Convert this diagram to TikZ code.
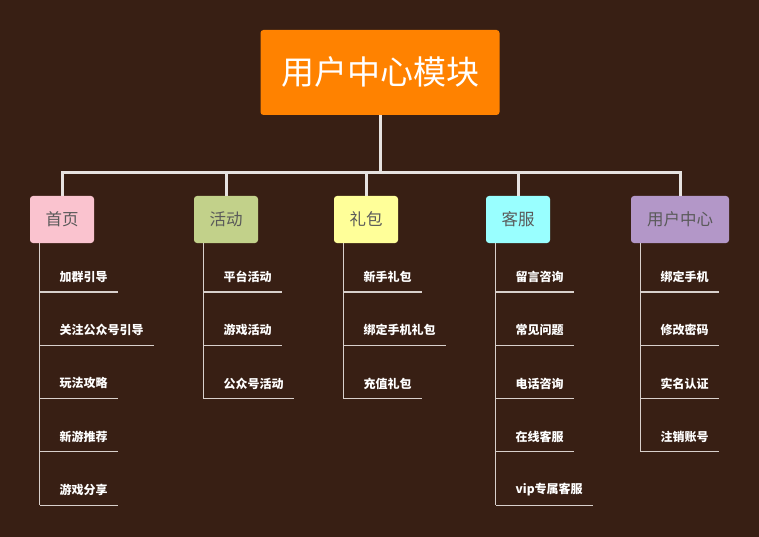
\documentclass[tikz,border=0pt]{standalone}
\usepackage{fontspec}
\setmainfont{Noto Sans CJK SC}
\newfontfamily\cjk{Noto Sans CJK SC}
\definecolor{bg}{HTML}{381F14}
\definecolor{rootc}{HTML}{FF8200}
\definecolor{linec}{HTML}{E6E2E0}
\definecolor{leafline}{HTML}{D8D0CC}
\definecolor{cattext}{HTML}{5A5A5A}
\definecolor{cpink}{HTML}{FAC3CF}
\definecolor{cgreen}{HTML}{C2D18A}
\definecolor{cyellow}{HTML}{FFFF99}
\definecolor{ccyan}{HTML}{99FFFF}
\definecolor{cpurple}{HTML}{B397C8}
\tikzset{
  rootbox/.style={fill=rootc, rounded corners=3pt, minimum width=239pt, minimum height=85pt, inner sep=0pt, text=white, font=\cjk\fontsize{33}{36}\selectfont},
  cattext/.style={text=cattext, font=\cjk\fontsize{16.5}{18}\selectfont},
  catbox/.style={rounded corners=3pt, minimum height=47pt, minimum width=64pt, inner sep=0pt, cattext},
  leaf/.style={anchor=south west, inner xsep=0pt, inner ysep=0pt, minimum height=30pt, text=white, font=\cjk\bfseries\fontsize{12}{14}\selectfont},
  trunk/.style={draw=linec, line width=3pt},
  twig/.style={draw=leafline, line width=1.1pt}
}
\begin{document}
\begin{tikzpicture}[x=1pt,y=-1pt]
\fill[bg] (0,0) rectangle (759,537);
\useasboundingbox (0,0) rectangle (759,537);
\node[rootbox] (root) at (380,72.5) {\raisebox{3pt}{用户中心模块}};
\node[catbox, fill=cpink] (c1) at (62,219.5) {首页};
\node[catbox, fill=cgreen] (c2) at (226,219.5) {活动};
\node[catbox, fill=cyellow] (c3) at (366,219.5) {礼包};
\node[catbox, fill=ccyan] (c4) at (518,219.5) {客服};
\node[catbox, fill=cpurple, minimum width=98pt] (c5) at (680,219.5) {用户中心};
\coordinate (hub) at (380,173);
\draw[trunk] (root.south) -- (hub);
\draw[trunk] (c1.north) -- (c1.north |- hub) -- (c5.north |- hub) -- (c5.north);
\foreach \c in {c2,c3,c4} \draw[trunk] (\c.north) -- (\c.north |- hub);
% leaves
\foreach \t [count=\i] in {加群引导,关注公众号引导,玩法攻略,新游推荐,游戏分享} {
  \coordinate (p1\i) at (39.5,{292+53.3*(\i-1)});
  \node[leaf] (l1\i) at (59.5,{292+53.3*(\i-1)}) {\t};
  \draw[twig] (p1\i) -- ([xshift=10pt]l1\i.south east);
}
\foreach \t [count=\i] in {平台活动,游戏活动,公众号活动} {
  \coordinate (p2\i) at (203.5,{292+53.3*(\i-1)});
  \node[leaf] (l2\i) at (223.5,{292+53.3*(\i-1)}) {\t};
  \draw[twig] (p2\i) -- ([xshift=10pt]l2\i.south east);
}
\foreach \t [count=\i] in {新手礼包,绑定手机礼包,充值礼包} {
  \coordinate (p3\i) at (343.5,{292+53.3*(\i-1)});
  \node[leaf] (l3\i) at (363.5,{292+53.3*(\i-1)}) {\t};
  \draw[twig] (p3\i) -- ([xshift=10pt]l3\i.south east);
}
\foreach \t [count=\i] in {留言咨询,常见问题,电话咨询,在线客服,vip专属客服} {
  \coordinate (p4\i) at (495.5,{292+53.3*(\i-1)});
  \node[leaf] (l4\i) at (515.5,{292+53.3*(\i-1)}) {\t};
  \draw[twig] (p4\i) -- ([xshift=10pt]l4\i.south east);
}
\foreach \t [count=\i] in {绑定手机,修改密码,实名认证,注销账号} {
  \coordinate (p5\i) at (640.5,{292+53.3*(\i-1)});
  \node[leaf] (l5\i) at (660.5,{292+53.3*(\i-1)}) {\t};
  \draw[twig] (p5\i) -- ([xshift=10pt]l5\i.south east);
}
\draw[twig] (c1.south -| p11) -- (p15);
\draw[twig] (c2.south -| p21) -- (p23);
\draw[twig] (c3.south -| p31) -- (p33);
\draw[twig] (c4.south -| p41) -- (p45);
\draw[twig] (c5.south -| p51) -- (p54);
\end{tikzpicture}
\end{document}
